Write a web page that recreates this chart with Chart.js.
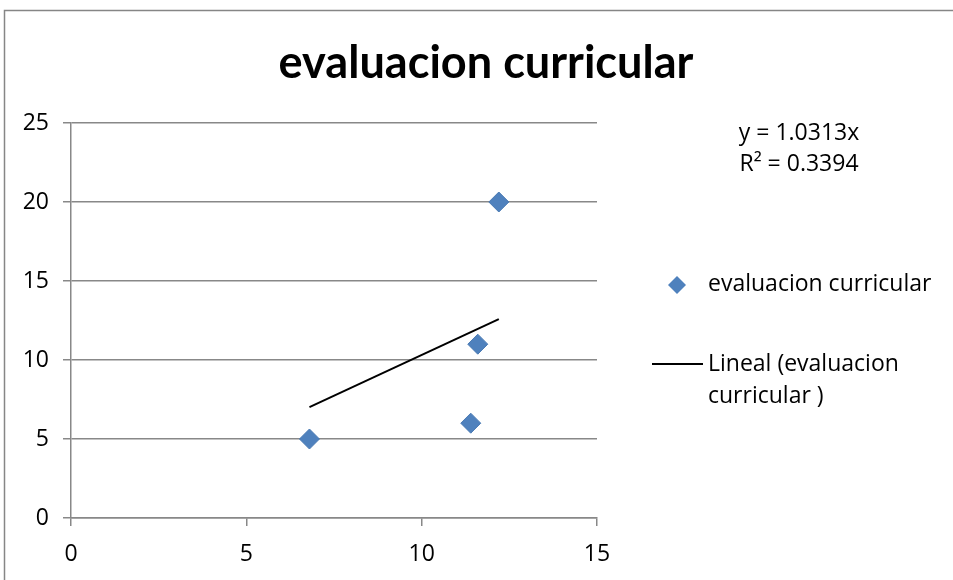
<!DOCTYPE html>
<html>
<head>
<meta charset="utf-8">
<script src="https://cdn.jsdelivr.net/npm/chart.js@4.4.0/dist/chart.umd.min.js"></script>
<style>
  html, body { margin: 0; padding: 0; background: #fff; }
  #wrap { width: 953px; height: 580px; }
</style>
</head>
<body>
<div id="wrap"><canvas id="chart" width="953" height="580"></canvas></div>
<script>
const chartTitle = 'evaluacion curricular';
const seriesName = 'evaluacion curricular';
const trendName = ['Lineal (evaluacion', 'curricular )'];
const xValues = [6.8, 11.4, 11.6, 12.2];
const yValues = [5, 6, 11, 20];
const trendSlope = 1.0313;
const trendR2 = 0.3394;
const xTicks = [0, 5, 10, 15];
const yTicks = [0, 5, 10, 15, 20, 25];

const FONT = '"Open Sans", Lato, sans-serif';
const TITLE_FONT = 'Lato, "Open Sans", sans-serif';
const GRID = '#888888';
const BLUE = '#4f81bd';

const points = xValues.map((x, i) => ({ x: x, y: yValues[i] }));
const xMin = Math.min(...xValues);
const xMax = Math.max(...xValues);
const trendPoints = [
    { x: xMin, y: trendSlope * xMin },
    { x: xMax, y: trendSlope * xMax }
];

// title, frame, trendline label and legend drawn on the canvas
const extras = {
    id: 'extras',
    afterDraw(chart) {
        const ctx = chart.ctx;
        ctx.save();
        ctx.strokeStyle = '#868686';
        ctx.lineWidth = 1.5;
        ctx.strokeRect(4.5, 10.5, 1200, 1200);

        ctx.fillStyle = '#000';
        ctx.textAlign = 'center';
        ctx.textBaseline = 'alphabetic';
        let size = 40;
        ctx.font = 'bold ' + size + 'px ' + TITLE_FONT;
        size = size * 415 / ctx.measureText(chartTitle).width;
        ctx.font = 'bold ' + size + 'px ' + TITLE_FONT;
        ctx.fillText(chartTitle, 486, 78);

        ctx.font = '23px ' + FONT;
        ctx.textBaseline = 'middle';
        ctx.fillText('y = ' + trendSlope + 'x', 799, 133);
        ctx.fillText('R² = ' + trendR2, 799, 164);

        ctx.textAlign = 'left';
        ctx.fillText(seriesName, 708, 284);
        ctx.fillText(trendName[0], 708, 364);
        ctx.fillText(trendName[1], 708, 396);

        ctx.fillStyle = BLUE;
        ctx.beginPath();
        ctx.moveTo(677, 276);
        ctx.lineTo(686, 285);
        ctx.lineTo(677, 294);
        ctx.lineTo(668, 285);
        ctx.closePath();
        ctx.fill();

        ctx.strokeStyle = '#000';
        ctx.lineWidth = 2;
        ctx.beginPath();
        ctx.moveTo(652, 364);
        ctx.lineTo(703, 364);
        ctx.stroke();
        ctx.restore();
    }
};

const ctx = document.getElementById('chart').getContext('2d');
new Chart(ctx, {
    type: 'scatter',
    data: {
        datasets: [
            {
                label: seriesName,
                data: points,
                pointStyle: 'rectRot',
                pointRadius: 10,
                pointHoverRadius: 10,
                backgroundColor: BLUE,
                borderColor: '#4a7ab3',
                borderWidth: 1,
                order: 1
            },
            {
                label: trendName.join(' '),
                type: 'line',
                data: trendPoints,
                showLine: true,
                borderColor: '#000',
                borderWidth: 2,
                pointRadius: 0,
                fill: false,
                order: 0
            }
        ]
    },
    options: {
        responsive: false,
        animation: false,
        layout: { padding: { left: 10, top: 123, right: 356, bottom: 0 } },
        plugins: {
            legend: { display: false },
            title: { display: false },
            tooltip: { enabled: false }
        },
        scales: {
            x: {
                type: 'linear',
                min: xTicks[0],
                max: xTicks[xTicks.length - 1],
                afterBuildTicks: (s) => { s.ticks = xTicks.map(v => ({ value: v })); },
                afterFit: (s) => { s.height = 62; },
                grid: { drawOnChartArea: false, drawTicks: true, tickLength: 8, color: GRID, lineWidth: 1.5 },
                border: { color: GRID, width: 1.5 },
                ticks: { color: '#000', padding: 15, font: { family: FONT, size: 23 } }
            },
            y: {
                type: 'linear',
                min: yTicks[0],
                max: yTicks[yTicks.length - 1],
                afterBuildTicks: (s) => { s.ticks = yTicks.map(v => ({ value: v })); },
                afterFit: (s) => { s.width = 61; },
                grid: { drawTicks: true, tickLength: 8, color: GRID, lineWidth: 1.5 },
                border: { color: GRID, width: 1.5 },
                ticks: { color: '#000', padding: 14, font: { family: FONT, size: 23 } }
            }
        }
    },
    plugins: [extras]
});
</script>
</body>
</html>
